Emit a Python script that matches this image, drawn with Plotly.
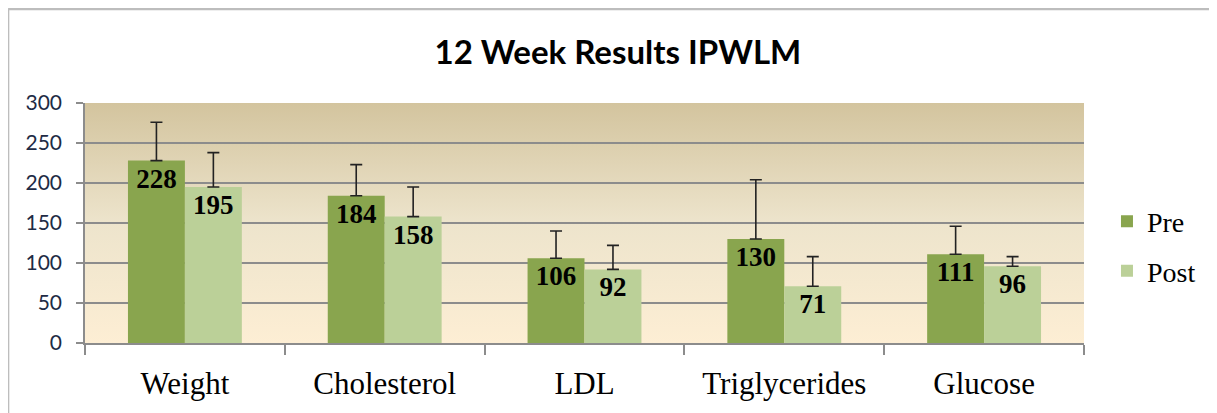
import base64
import plotly.graph_objects as go

categories = ["Weight", "Cholesterol", "LDL", "Triglycerides", "Glucose"]
pre_values = [228, 184, 106, 130, 111]
post_values = [195, 158, 92, 71, 96]
pre_err = [48, 39, 34, 74, 35]
post_err = [43, 37, 30, 37, 12]

PRE_COLOR = "#89A54E"
POST_COLOR = "#BBD098"

svg = (
    '<svg xmlns="http://www.w3.org/2000/svg" width="100" height="100" preserveAspectRatio="none">'
    '<defs><linearGradient id="g" x1="0" y1="0" x2="0" y2="1">'
    '<stop offset="0" stop-color="#D3C49E"/>'
    '<stop offset="0.5" stop-color="#EDE4CC"/>'
    '<stop offset="1" stop-color="#FDEED4"/>'
    '</linearGradient></defs>'
    '<rect width="100" height="100" fill="url(#g)"/></svg>'
)
bg_uri = "data:image/svg+xml;base64," + base64.b64encode(svg.encode()).decode()

label_font = dict(family="Liberation Serif", size=27, color="black", weight="bold")

fig = go.Figure()
fig.add_trace(go.Bar(
    x=categories, y=pre_values, name="Pre", marker_color=PRE_COLOR,
    marker_line_width=0,
    error_y=dict(type="data", symmetric=False, array=pre_err,
                 arrayminus=[0] * len(pre_err), color="#222222",
                 thickness=1.6, width=6),
    text=[str(v) for v in pre_values], textposition="inside",
    insidetextanchor="end", constraintext="none",
    textfont=label_font,
    legendgroup="pre",
))
fig.add_trace(go.Bar(
    x=categories, y=post_values, name="Post", marker_color=POST_COLOR,
    marker_line_width=0,
    error_y=dict(type="data", symmetric=False, array=post_err,
                 arrayminus=[0] * len(post_err), color="#222222",
                 thickness=1.6, width=6),
    text=[str(v) for v in post_values], textposition="inside",
    insidetextanchor="end", constraintext="none",
    textfont=label_font,
    legendgroup="post",
))

fig.update_layout(
    width=1209, height=405,
    margin=dict(l=77, r=133, t=95, b=70),
    paper_bgcolor="white",
    plot_bgcolor="rgba(0,0,0,0)",
    barmode="group", bargap=0.43, bargroupgap=0,
    title=dict(text="<b>12 Week Results IPWLM</b>", x=0.5045, xanchor="center",
               y=0.891, yanchor="middle",
               font=dict(family="Lato", size=33, color="black")),
    legend=dict(x=1.023, y=0.404, xanchor="left", yanchor="middle",
                font=dict(family="Liberation Serif", size=28, color="black"),
                tracegroupgap=10, bgcolor="rgba(0,0,0,0)"),
    images=[dict(source=bg_uri, xref="paper", yref="paper", x=0, y=1,
                 sizex=1, sizey=1, sizing="stretch", layer="below",
                 xanchor="left", yanchor="top")],
    shapes=[
        dict(type="line", xref="paper", yref="paper", x0=-0.077, x1=1.2,
             y0=1.392, y1=1.392, line=dict(color="#BDBDBD", width=2.5)),
        dict(type="line", xref="paper", yref="paper", x0=-0.077, x1=-0.077,
             y0=1.392, y1=-0.5, line=dict(color="#BDBDBD", width=2.5)),
    ],
    showlegend=True,
)

fig.update_xaxes(
    tickson="boundaries", ticks="outside", ticklen=10, tickcolor="#8C8C8C",
    tickwidth=1.5, showline=True, linecolor="#8C8C8C", linewidth=1.5,
    tickfont=dict(family="Liberation Serif", size=31, color="black"),
    ticklabelstandoff=12, showgrid=False,
)
fig.update_yaxes(
    range=[0, 300], dtick=50, ticks="outside", ticklen=7, tickcolor="#8C8C8C",
    tickwidth=1.5, showline=True, linecolor="#8C8C8C", linewidth=1.5,
    showgrid=True, gridcolor="#8C8C8C", gridwidth=1.5, zeroline=False,
    ticklabelstandoff=10,
    tickfont=dict(family="Lato", size=21, color="#1E2B45"),
)

fig.write_html("out.html")
